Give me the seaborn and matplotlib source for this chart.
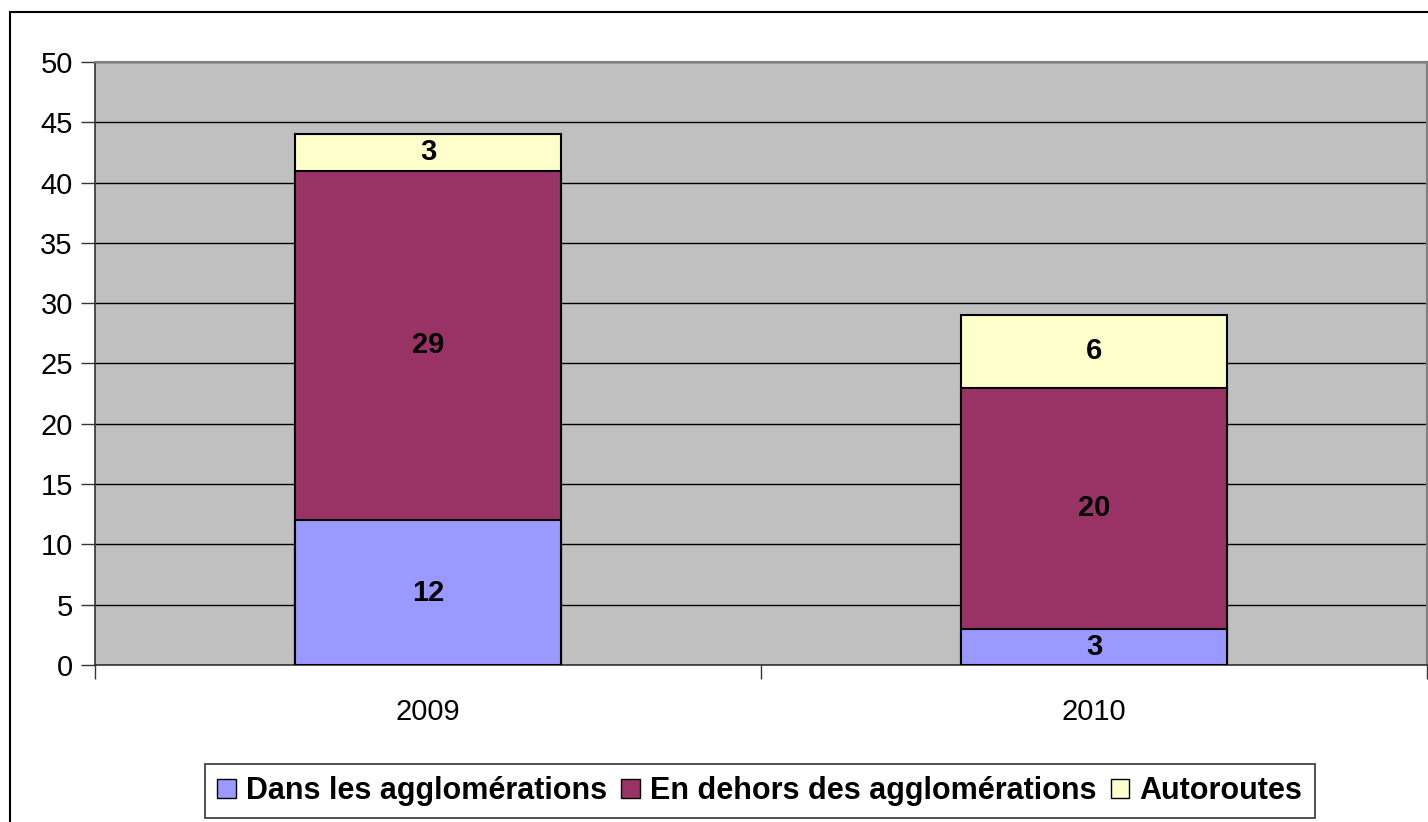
import matplotlib
matplotlib.use("Agg")
import matplotlib.pyplot as plt
import seaborn as sns
import pandas as pd
import numpy as np
from matplotlib.patches import Rectangle, Patch

years = ["2009", "2010"]
dans = [12, 3]
dehors = [29, 20]
autoroutes = [3, 6]
series_names = ["Dans les agglomérations", "En dehors des agglomérations", "Autoroutes"]
colors = ["#9999FF", "#993366", "#FFFFCC"]
yticks = [0, 5, 10, 15, 20, 25, 30, 35, 40, 45, 50]

sns.set_theme(style="white")
plt.rcParams['font.family'] = ['Liberation Sans', 'DejaVu Sans']
plt.rcParams['text.color'] = 'black'
plt.rcParams['xtick.labelcolor'] = 'black'
plt.rcParams['ytick.labelcolor'] = 'black'

fig = plt.figure(figsize=(14.28, 8.22), dpi=100)
ax = fig.add_axes([95/1428, 1-665/822, (1427-95)/1428, (665-62)/822])
ax.set_facecolor("#C0C0C0")

vals = np.array([dans, dehors, autoroutes], dtype=float)
cum = np.cumsum(vals, axis=0)

# draw from top (total) down so lower segments overlay
for i in [2, 1, 0]:
    df = pd.DataFrame({"year": years, "value": cum[i]})
    sns.barplot(data=df, x="year", y="value", color=colors[i], saturation=1,
                width=0.4, edgecolor="black", linewidth=1.5, ax=ax, zorder=3)

# labels
for i in range(3):
    for j in range(len(years)):
        bottom = cum[i][j] - vals[i][j]
        ax.text(j, bottom + vals[i][j] / 2, f"{int(vals[i][j])}", ha="center", va="center",
                fontsize=21, fontweight="bold", color="black", zorder=5)

ax.set_xlim(-0.5, 1.5)
ax.set_ylim(0, 50)
ax.set_yticks(yticks)
ax.set_yticklabels([str(t) for t in yticks], fontsize=21)
ax.yaxis.grid(True, color="black", linewidth=1.0, zorder=0)
ax.set_axisbelow(True)
ax.set_xlabel("")
ax.set_ylabel("")
ax.tick_params(axis="y", which="major", direction="out", length=10, width=1, color="#333333",
               labelcolor="black", left=True, pad=6)
ax.tick_params(axis="x", which="major", length=0, labelsize=21, labelcolor="black", pad=24)
ax.set_xticks([-0.5, 0.5, 1.5], minor=True)
ax.tick_params(axis="x", which="minor", direction="out", length=10, width=1, color="#333333", bottom=True)
for s in ["left", "bottom"]:
    ax.spines[s].set_color("#333333")
    ax.spines[s].set_linewidth(1.2)
for s in ["top", "right"]:
    ax.spines[s].set_color("#808080")
    ax.spines[s].set_linewidth(1.5)

# outer border
fig.patches.append(Rectangle((10/1428, -0.1), 1.2, 1 - 12/822 + 0.1, transform=fig.transFigure,
                             fill=False, edgecolor="black", linewidth=1.5, zorder=0))

handles = [Patch(facecolor=c, edgecolor="black", linewidth=1) for c in colors]
leg = fig.legend(handles, series_names, loc="center", bbox_to_anchor=(760/1428, 1 - 791/822),
                 ncol=3, frameon=True, fancybox=False, prop={"size": 22, "weight": "bold"},
                 handlelength=0.6, handleheight=0.6, handletextpad=0.35, columnspacing=0.45,
                 borderpad=0.4, borderaxespad=0, labelcolor="black")
leg.get_frame().set_edgecolor("black")
leg.get_frame().set_linewidth(1.2)

fig.savefig("out.png", dpi=100, facecolor="white")
